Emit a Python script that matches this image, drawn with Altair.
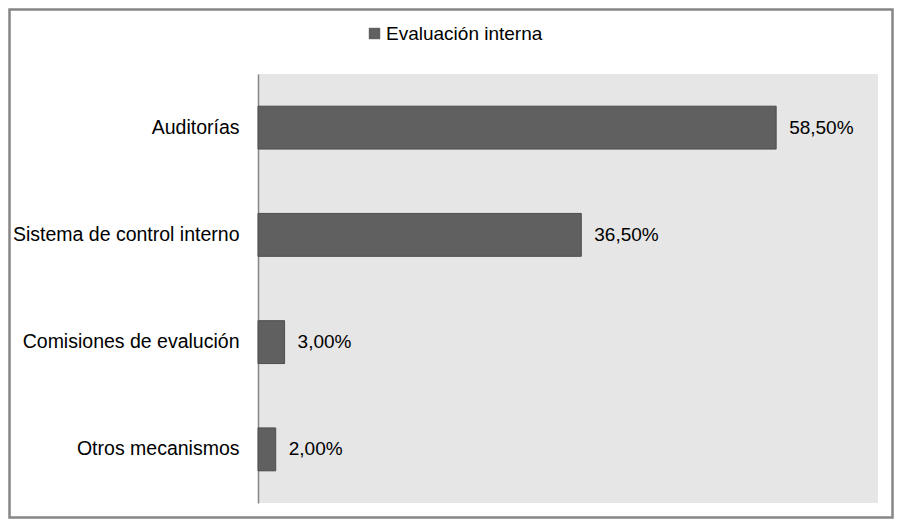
import altair as alt
import pandas as pd

categorias = ["Auditorías", "Sistema de control interno", "Comisiones de evalución", "Otros mecanismos"]
valores = [58.5, 36.5, 3.0, 2.0]
serie = ["Evaluación interna"] * 4

df = pd.DataFrame({"categoria": categorias, "valor": valores, "serie": serie})

FONT = "Liberation Sans"
W, H = 620, 429
PL, PT, PR, PB = 250, 66, 16, 16

base = alt.Chart(df)

y_enc = alt.Y("categoria:N", sort=None, title=None,
              scale=alt.Scale(paddingInner=0.6, paddingOuter=0.3),
              axis=alt.Axis(ticks=False, labelFontSize=19.5, labelFont=FONT,
                            labelColor="#000000", labelPadding=19,
                            domainColor="#868686", domainWidth=1.5,
                            labelLimit=400))
x_enc = alt.X("valor:Q", scale=alt.Scale(domain=[0, 70]), axis=None)

bars = base.mark_bar(stroke="#4d4d4d", strokeWidth=1, cornerRadius=0).encode(
    x=x_enc,
    y=y_enc,
    color=alt.Color("serie:N", title=None,
                    scale=alt.Scale(range=["#606060"]),
                    legend=alt.Legend(orient="none", legendX=107, legendY=-50,
                                      symbolType="square", symbolSize=130,
                                      symbolStrokeWidth=0,
                                      labelFontSize=19, labelFont=FONT,
                                      labelColor="#000000", labelOffset=2,
                                      padding=0)),
)

labels = base.transform_calculate(
    etiqueta="replace(format(datum.valor / 100, '.2%'), '.', ',')"
).mark_text(align="left", baseline="middle", dx=13, fontSize=19, font=FONT,
            color="#000000").encode(
    x=x_enc,
    y=alt.Y("categoria:N", sort=None),
    text="etiqueta:N",
)

frame = alt.Chart(pd.DataFrame({"k": [0]})).mark_rect(
    fill=None, stroke="#868686", strokeWidth=2.5
).encode(
    x=alt.value(-PL + 1.5), x2=alt.value(W + PR - 1.5),
    y=alt.value(-PT + 1.5), y2=alt.value(H + PB - 1.5),
)

chart = alt.layer(bars, labels, frame).properties(
    width=W, height=H,
    autosize=alt.AutoSizeParams(type="none"),
    padding={"left": PL, "top": PT, "right": PR, "bottom": PB},
    background="#ffffff",
).configure_view(fill="#e6e6e6", stroke=None)

chart.save("out.html", embed_options={"renderer": "svg", "actions": False})
